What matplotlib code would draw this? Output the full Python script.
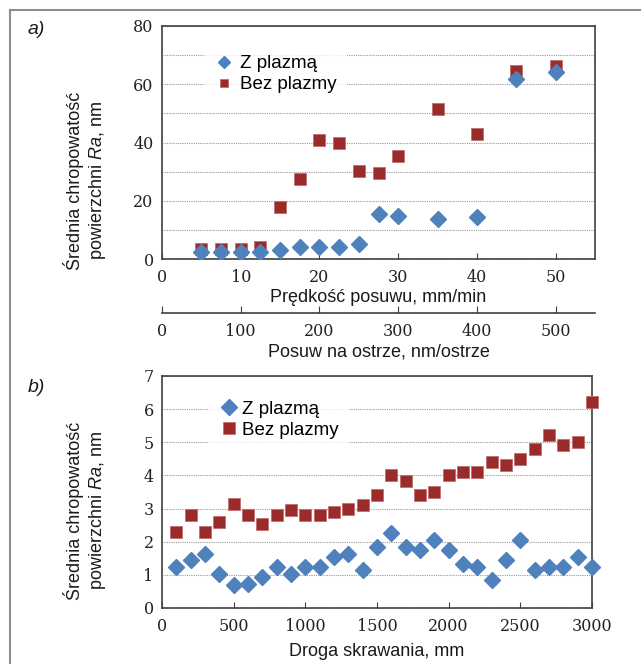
import matplotlib
matplotlib.use("Agg")
import matplotlib.pyplot as plt
from matplotlib.patches import Rectangle

plt.rcParams['font.family'] = ['Liberation Sans', 'DejaVu Sans']
plt.rcParams['mathtext.fontset'] = 'custom'
plt.rcParams['mathtext.rm'] = 'Liberation Sans'
plt.rcParams['mathtext.it'] = 'Liberation Sans:italic'

# a) roughness vs feed speed
feed = [5, 7.5, 10, 12.5, 15, 17.5, 20, 22.5, 25, 27.5, 30, 35, 40, 45, 50]
ra_plasma_a = [2.4, 2.4, 2.4, 2.5, 3.1, 4.2, 4.1, 4.1, 5.0, 15.3, 14.7, 13.6, 14.3, 61.9, 64.1]
ra_noplasma_a = [3.5, 3.5, 3.5, 4.2, 18.0, 27.6, 40.9, 40.0, 30.3, 29.4, 35.4, 51.6, 43.0, 64.7, 66.3]

# b) roughness vs cutting distance
dist = list(range(100, 3001, 100))
ra_plasma_b = [1.24, 1.44, 1.64, 1.04, 0.70, 0.73, 0.94, 1.24, 1.04, 1.24,
               1.24, 1.54, 1.64, 1.14, 1.83, 2.25, 1.83, 1.74, 2.04, 1.74,
               1.34, 1.23, 0.84, 1.44, 2.06, 1.14, 1.23, 1.23, 1.54, 1.23]
ra_noplasma_b = [2.30, 2.82, 2.30, 2.60, 3.15, 2.82, 2.52, 2.82, 2.97, 2.82,
                 2.82, 2.90, 3.00, 3.12, 3.42, 4.01, 3.82, 3.42, 3.50, 4.01,
                 4.11, 4.11, 4.40, 4.31, 4.51, 4.81, 5.22, 4.91, 5.01, 6.21]

blue = '#4F81BD'
red = '#9B2B2A'
spine_col = '#404040'
serif = ['DejaVu Serif']
ylabel = 'Średnia chropowatość\npowierzchni $\\mathit{Ra}$, nm'
fs = 13

fig = plt.figure(figsize=(6.41, 6.64), dpi=100)
W, H = 641, 664

# grey frame around the figure
fig.add_artist(Rectangle((10 / W, -0.1), 1.2, 1 - 10 / H + 0.1, transform=fig.transFigure,
                         fill=False, edgecolor='#8c8c8c', linewidth=1.5))


def style(ax):
    for s in ax.spines.values():
        s.set_color(spine_col)
        s.set_linewidth(1.2)
    ax.tick_params(axis='y', length=0, labelsize=11.5, colors='#222222', pad=6)
    ax.tick_params(axis='x', direction='in', length=4, labelsize=11.5, colors='#222222',
                   pad=7, color=spine_col)
    for lab in ax.get_xticklabels() + ax.get_yticklabels():
        lab.set_family(serif)
    ax.grid(True, axis='y', which='both', linestyle=(0, (1, 1)), color='#9a9a9a', linewidth=0.8)
    ax.set_axisbelow(True)


# ---- panel a
ax1 = fig.add_axes([162 / W, 1 - 259 / H, 433 / W, 233 / H])
ax1.plot(feed, ra_plasma_a, 'D', color=blue, markersize=8.5, label='Z plazmą', zorder=4)
ax1.plot(feed, ra_noplasma_a, 's', color=red, markeredgecolor='#c07070', markeredgewidth=0.6,
         markersize=9, label='Bez plazmy', zorder=3)
ax1.set_xlim(0, 55)
ax1.set_ylim(0, 80)
ax1.set_xticks([0, 10, 20, 30, 40, 50])
ax1.set_yticks([0, 20, 40, 60, 80])
ax1.set_yticks([10, 30, 50, 70], minor=True)
ax1.tick_params(axis='y', which='minor', length=0)
style(ax1)
ax1.set_xlabel('Prędkość posuwu, mm/min', fontsize=fs, labelpad=2, color='#1a1a1a')
ax1.set_ylabel(ylabel, fontsize=fs, color='#1a1a1a')
ax1.yaxis.set_label_coords(-0.125, 0.335)
leg1 = ax1.legend(loc='upper left', bbox_to_anchor=(0.075, 0.955), fontsize=13.5, frameon=True,
                  handletextpad=0.25, borderpad=0.5, labelspacing=0.2, markerscale=0.7,
                  handlelength=1.2)
leg1.get_frame().set_facecolor('white')
leg1.get_frame().set_edgecolor('white')

sec = ax1.secondary_xaxis(-0.232, functions=(lambda x: x * 10, lambda x: x / 10))
sec.set_xticks([0, 100, 200, 300, 400, 500])
sec.spines['bottom'].set_color(spine_col)
sec.spines['bottom'].set_linewidth(1.2)
sec.tick_params(direction='in', length=5, labelsize=11.5, colors='#222222', pad=7, color=spine_col)
for lab in sec.get_xticklabels():
    lab.set_family(serif)
sec.set_xlabel('Posuw na ostrze, nm/ostrze', fontsize=fs, labelpad=3, color='#1a1a1a')

fig.text(28 / W, 1 - 30 / H, 'a)', fontsize=14, style='italic', va='center', color='#1a1a1a')

# ---- panel b
ax2 = fig.add_axes([162 / W, 1 - 608 / H, 430 / W, 232 / H])
ax2.plot(dist, ra_plasma_b, 'D', color=blue, markersize=8, label='Z plazmą', zorder=4,
         clip_on=False)
ax2.plot(dist, ra_noplasma_b, 's', color=red, markeredgecolor='#c07070', markeredgewidth=0.6,
         markersize=8.5, label='Bez plazmy', zorder=3, clip_on=False)
ax2.set_xlim(0, 3000)
ax2.set_ylim(0, 7)
ax2.set_xticks([0, 500, 1000, 1500, 2000, 2500, 3000])
ax2.set_yticks(range(0, 8))
style(ax2)
ax2.set_xlabel('Droga skrawania, mm', fontsize=fs, labelpad=6, color='#1a1a1a')
ax2.set_ylabel(ylabel, fontsize=fs, color='#1a1a1a')
ax2.yaxis.set_label_coords(-0.126, 0.42)
leg2 = ax2.legend(loc='upper left', bbox_to_anchor=(0.085, 0.975), fontsize=13.5, frameon=True,
                  handletextpad=0.1, borderpad=0.5, labelspacing=0.2, markerscale=1.0,
                  handlelength=1.2)
leg2.get_frame().set_facecolor('white')
leg2.get_frame().set_edgecolor('white')

fig.text(28 / W, 1 - 387 / H, 'b)', fontsize=14, style='italic', va='center', color='#1a1a1a')

fig.savefig('out.png', dpi=100)
